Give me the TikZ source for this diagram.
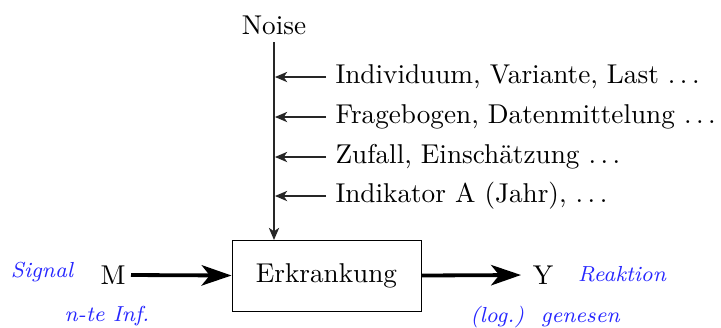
\documentclass[tikz,border=0pt]{standalone}
\usetikzlibrary{arrows.meta}
\begin{document}
\begin{tikzpicture}[x=0.3676pt,y=-0.3676pt,
  lbl/.style={font=\footnotesize\itshape, text=blue!85!white},
  noisearrow/.style={draw=black!85, line width=0.45pt, -{Stealth[length=4.5pt,width=3.8pt,inset=1.3pt]}},
  mainarrow/.style={line width=1.4pt, -{Stealth[length=11pt,width=7.5pt,inset=3pt]}}]
\useasboundingbox (0,0) rectangle (721,327);
\node (noise) at (274,25) {Noise};
\node[draw, line width=0.35pt, minimum width=189*0.3676pt, minimum height=71*0.3676pt, inner sep=0pt] (box) at (326.5,275.5) {Erkrankung};
\node (M) at (113,275) {M};
\node (Y) at (543,275) {Y};
\node[lbl] (sig) at (42,272) {Signal};
\node[lbl] (reak) at (622,274) {Reaktion};
\node[lbl] (nte) at (107,316) {n-te Inf.};
\node[lbl] (gen) at (545,317) {(log.)\ \ genesen};
\coordinate (top) at (274,42);
\coordinate (bot) at (274,240);
\draw[noisearrow] (top) -- (bot);
\foreach \y/\t [count=\i] in {77/{Individuum, Variante, Last~$\ldots$},117/{Fragebogen, Datenmittelung~$\ldots$},157/{Zufall, Einschätzung~$\ldots$},196/{Indikator A (Jahr), $\ldots$}}{
  \node[anchor=west, inner sep=0pt] (n\i) at (335,\y) {\t};
  \coordinate (s\i) at (326,\y);
  \coordinate (e\i) at (275,\y);
  \draw[noisearrow] (s\i) -- (e\i);
}
\coordinate (ms) at (131,275);
\coordinate (ye) at (521,275);
\draw[mainarrow] (ms) -- (box.west);
\draw[mainarrow] (box.east) -- (ye);
\end{tikzpicture}
\end{document}
